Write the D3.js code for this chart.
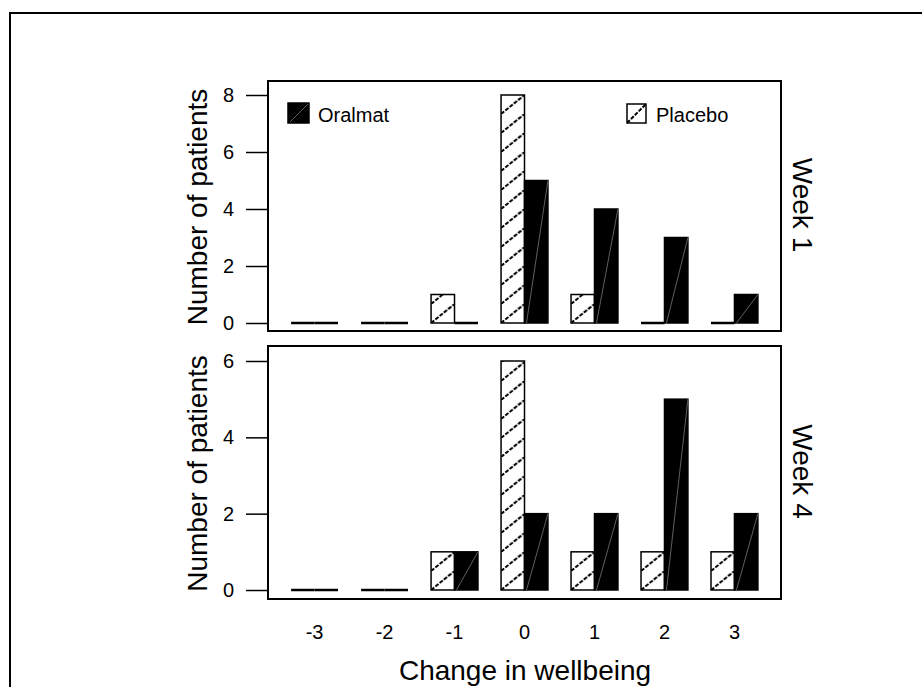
<!DOCTYPE html>
<html>
<head>
<meta charset="utf-8">
<script src="https://cdn.jsdelivr.net/npm/d3@7"></script>
<style>
  body { margin: 0; background: #fff; }
  text { font-family: Arial, "Liberation Sans", sans-serif; fill: #000; }
</style>
</head>
<body>
<div id="chart"></div>
<script>
var svgW = 922;
var svgH = 687;

// data
var categories = ["-3", "-2", "-1", "0", "1", "2", "3"];
var series = ["Placebo", "Oralmat"];
var week1Placebo = [0, 0, 1, 8, 1, 0, 0];
var week1Oralmat = [0, 0, 0, 5, 4, 3, 1];
var week4Placebo = [0, 0, 1, 6, 1, 1, 1];
var week4Oralmat = [0, 0, 1, 2, 2, 5, 2];
var week1Ticks = [0, 2, 4, 6, 8];
var week4Ticks = [0, 2, 4, 6];

var panels = [
    { name: "Week 1", top: 81, bottom: 331, y0: 323, yMax: 8, y1: 95, ticks: week1Ticks,
      values: [week1Placebo, week1Oralmat] },
    { name: "Week 4", top: 346, bottom: 599, y0: 590, yMax: 6, y1: 361, ticks: week4Ticks,
      values: [week4Placebo, week4Oralmat] }
];

var left = 268, right = 781;

var svg = d3.select("#chart")
    .append("svg")
    .attr("width", svgW)
    .attr("height", svgH);

var defs = svg.append("defs");

// outer frame (runs off the right and bottom edges)
svg.append("rect")
    .attr("x", 10).attr("y", 13)
    .attr("width", 1000).attr("height", 1000)
    .attr("fill", "none")
    .attr("stroke", "#000")
    .attr("stroke-width", 2);

var xScale = d3.scaleBand()
    .domain(categories)
    .range([left, right])
    .paddingInner(0.33)
    .paddingOuter(0.33);

var xSub = d3.scaleBand()
    .domain(series)
    .range([0, xScale.bandwidth()]);

function hatch(id, x, y, w) {
    var p = defs.append("pattern")
        .attr("id", id)
        .attr("patternUnits", "userSpaceOnUse")
        .attr("x", x).attr("y", y)
        .attr("width", w).attr("height", 19);
    p.append("rect").attr("width", w).attr("height", 19).attr("fill", "#fff");
    p.append("line")
        .attr("x1", 0).attr("y1", 19)
        .attr("x2", w).attr("y2", 0)
        .attr("stroke", "#000")
        .attr("stroke-width", 2)
        .attr("stroke-dasharray", "4,1.5");
}

panels.forEach(function (pn, pi) {
    var yScale = d3.scaleLinear()
        .domain([0, pn.yMax])
        .range([pn.y0, pn.y1]);

    var g = svg.append("g");

    // y axis
    var axis = g.append("g")
        .attr("transform", `translate(${left},0)`)
        .call(d3.axisLeft(yScale).tickValues(pn.ticks).tickFormat(d3.format("d"))
            .tickSize(22).tickPadding(12));
    axis.attr("font-size", 20).attr("font-family", "Arial, 'Liberation Sans', sans-serif");
    axis.select(".domain").remove();
    axis.selectAll(".tick line").attr("stroke", "#000").attr("stroke-width", 1.5);

    // bars
    categories.forEach(function (c, ci) {
        series.forEach(function (s, si) {
            var v = pn.values[si][ci];
            var bx = xScale(c) + xSub(s);
            var bw = xSub.bandwidth();
            var by = yScale(v);
            var bh = yScale(0) - yScale(v);
            if (v === 0) {
                g.append("line")
                    .attr("x1", bx).attr("x2", bx + bw)
                    .attr("y1", yScale(0)).attr("y2", yScale(0))
                    .attr("stroke", "#000")
                    .attr("stroke-width", 2.5);
                return;
            }
            if (s === "Placebo") {
                var id = "h" + pi + "_" + ci;
                hatch(id, bx, yScale(0), bw);
                g.append("rect")
                    .attr("x", bx).attr("y", by)
                    .attr("width", bw).attr("height", bh)
                    .attr("fill", `url(#${id})`)
                    .attr("stroke", "#000")
                    .attr("stroke-width", 1.5);
            } else {
                g.append("rect")
                    .attr("x", bx).attr("y", by)
                    .attr("width", bw).attr("height", bh)
                    .attr("fill", "#000")
                    .attr("stroke", "#000")
                    .attr("stroke-width", 1.5);
                g.append("line")
                    .attr("x1", bx + 2).attr("y1", yScale(0))
                    .attr("x2", bx + bw).attr("y2", by)
                    .attr("stroke", "#888")
                    .attr("stroke-width", 0.7);
            }
        });
    });

    // panel frame
    g.append("rect")
        .attr("x", left).attr("y", pn.top)
        .attr("width", right - left).attr("height", pn.bottom - pn.top)
        .attr("fill", "none")
        .attr("stroke", "#000")
        .attr("stroke-width", 2);

    // y title
    var cy = (pn.top + pn.bottom) / 2 + 1;
    g.append("text")
        .attr("transform", `translate(197,${cy}) rotate(-90)`)
        .attr("text-anchor", "middle")
        .attr("dy", "0.35em")
        .attr("font-size", 28)
        .text("Number of patients");

    // strip label
    g.append("text")
        .attr("transform", `translate(803,${cy - 2}) rotate(90)`)
        .attr("text-anchor", "middle")
        .attr("dy", "0.35em")
        .attr("font-size", 28)
        .text(pn.name);
});

// x tick labels
svg.append("g").selectAll("text")
    .data(categories)
    .enter()
    .append("text")
    .attr("x", d => xScale(d) + xScale.bandwidth() / 2)
    .attr("y", 632)
    .attr("dy", "0.35em")
    .attr("text-anchor", "middle")
    .attr("font-size", 20)
    .text(d => d);

svg.append("text")
    .attr("x", 525)
    .attr("y", 670)
    .attr("dy", "0.35em")
    .attr("text-anchor", "middle")
    .attr("font-size", 28)
    .text("Change in wellbeing");

// legend
svg.append("rect")
    .attr("x", 288).attr("y", 103)
    .attr("width", 21).attr("height", 20)
    .attr("fill", "#000").attr("stroke", "#000").attr("stroke-width", 1.5);
svg.append("line")
    .attr("x1", 290).attr("y1", 122).attr("x2", 308).attr("y2", 104)
    .attr("stroke", "#888").attr("stroke-width", 0.7);
svg.append("text")
    .attr("x", 318).attr("y", 122)
    .attr("font-size", 20)
    .text("Oralmat");

hatch("hleg", 627, 123, 19);
svg.append("rect")
    .attr("x", 627).attr("y", 104)
    .attr("width", 19).attr("height", 19)
    .attr("fill", "url(#hleg)").attr("stroke", "#000").attr("stroke-width", 1.5);
svg.append("text")
    .attr("x", 656).attr("y", 122)
    .attr("font-size", 20)
    .text("Placebo");
</script>
</body>
</html>
